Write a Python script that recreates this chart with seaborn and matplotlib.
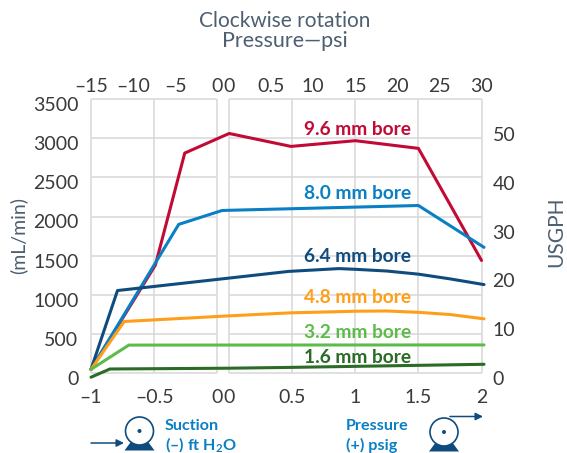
import pandas as pd
import matplotlib
matplotlib.use("Agg")
import matplotlib.pyplot as plt
from matplotlib.patches import Circle, Polygon
from matplotlib.transforms import ScaledTranslation
import seaborn as sns

# gap between suction and pressure panels, in x units
GAP = 0.095

bores = ["9.6 mm bore", "8.0 mm bore", "6.4 mm bore", "4.8 mm bore", "3.2 mm bore", "1.6 mm bore"]
colors = ["#c10a36", "#0a7fc4", "#0f4c7d", "#ff9e18", "#5dbb4a", "#2a6b25"]

# first n points of each series are suction side, the rest get shifted by GAP
x_96 = [-1, -0.49, -0.257, 0, 0.49, 1.0, 1.5, 2.0]
y_96 = [50, 1380, 2810, 3060, 2895, 2968, 2870, 1440]
x_80 = [-1, -0.305, 0.038, 0, 0.47, 1.5, 2.02]
y_80 = [50, 1900, 2077, 2080, 2099, 2141, 1607]
x_64 = [-1, -0.79, 0, 0.47, 0.87, 1.0, 1.25, 1.5, 1.75, 2.02]
y_64 = [50, 1056, 1215, 1300, 1336, 1327, 1305, 1265, 1205, 1132]
x_48 = [-1, -0.737, 0, 0.48, 1.0, 1.25, 1.5, 1.75, 2.02]
y_48 = [50, 661, 733, 771, 792, 795, 778, 750, 695]
x_32 = [-1, -0.70, 2.02]
y_32 = [50, 360, 362]
x_16 = [-1, -0.85, 0, 0.47, 2.02]
y_16 = [-50, 55, 65, 75, 115]
xs = [x_96, x_80, x_64, x_48, x_32, x_16]
ys = [y_96, y_80, y_64, y_48, y_32, y_16]
n_suction = [3, 3, 2, 2, 2, 2]

label_y = [3110, 2295, 1495, 973, 523, 203]

bottom_ticks = [-1, -0.5, 0, 0, 0.5, 1, 1.5, 2]
bottom_labels = ["–1", "–0.5", "0", "0", "0.5", "1", "1.5", "2"]
top_ticks = [-1, -2/3, -1/3, 0, 0, 1/3, 2/3, 1, 4/3, 5/3, 2]
top_labels = ["–15", "–10", "–5", "0", "0", "0.5", "10", "15", "20", "25", "30"]
left_ticks = [0, 500, 1000, 1500, 2000, 2500, 3000, 3500]
right_ticks = [0, 10, 20, 30, 40, 50]

sns.set_style("white")
plt.rcParams["font.family"] = ["Lato", "DejaVu Sans"]
plt.rcParams["mathtext.fontset"] = "custom"
plt.rcParams["mathtext.bf"] = "Lato:bold"

W, H = 567, 453
fig = plt.figure(figsize=(W / 100, H / 100), dpi=100)
ax = fig.add_axes([91 / W, 1 - 373.3 / H, 390.5 / W, 274.3 / H])
ax.set_xlim(-1, 2 + GAP)
ax.set_ylim(0, 3500)
for s in ax.spines.values():
    s.set_visible(False)

grid = "#d9d9d9"
for t in left_ticks:
    ax.hlines(t, -1, 0, color=grid, lw=1.15, zorder=1, clip_on=False)
    ax.hlines(t, GAP, 2 + GAP, color=grid, lw=1.15, zorder=1, clip_on=False)
for t in [-1, -0.5, 0]:
    ax.vlines(t, 0, 3500, color=grid, lw=1.15, zorder=1, clip_on=False)
for t in [0, 0.5, 1, 1.5, 2]:
    ax.vlines(t + GAP, 0, 3500, color=grid, lw=1.15, zorder=1, clip_on=False)

for x, y, c, n in zip(xs, ys, colors, n_suction):
    df = pd.DataFrame({"x": x[:n] + [a + GAP for a in x[n:]], "y": y})
    sns.lineplot(data=df, x="x", y="y", color=c, lw=2.2, ax=ax, estimator=None,
                 sort=False, clip_on=False, zorder=3)
ax.set_xlabel("")
ax.set_ylabel("")

for name, ly, c in zip(bores, label_y, colors):
    ax.text(1.015 + GAP, ly, name, color=c, fontsize=13.8, fontweight="bold",
            ha="center", va="center", zorder=4)

txt = "#3a3a3a"
ax.set_xticks([t + GAP if i > 2 else t for i, t in enumerate(bottom_ticks)])
ax.set_xticklabels(bottom_labels)
ax.set_yticks(left_ticks)
ax.tick_params(axis="both", length=0, labelsize=14, labelcolor=txt)
ax.tick_params(axis="x", pad=11)
ax.tick_params(axis="y", pad=9)
down = ScaledTranslation(0, -3.5 / 72, fig.dpi_scale_trans)
for lab in ax.get_yticklabels():
    lab.set_transform(lab.get_transform() + down)

top = ax.twiny()
top.set_xlim(ax.get_xlim())
top.set_xticks([t + GAP if i > 3 else t for i, t in enumerate(top_ticks)])
top.set_xticklabels(top_labels)
top.tick_params(axis="x", length=0, labelsize=14, labelcolor=txt, pad=3)
for s in top.spines.values():
    s.set_visible(False)

# right scale does not line up with the left one, so it gets its own axes
rax = fig.add_axes([91 / W, 1 - 378 / H, 390.5 / W, 244 / H])
rax.patch.set_visible(False)
rax.set_ylim(0, 50)
rax.set_xticks([])
rax.yaxis.tick_right()
rax.set_yticks(right_ticks)
rax.tick_params(axis="y", length=0, labelsize=14, labelcolor=txt, pad=8)
for s in rax.spines.values():
    s.set_visible(False)

# overlay in pixel coordinates for titles and pump symbols
ov = fig.add_axes([0, 0, 1, 1])
ov.set_xlim(0, W)
ov.set_ylim(H, 0)
ov.axis("off")
ov.patch.set_visible(False)

slate = "#4d5f70"
ov.text(285, 21, "Clockwise rotation", color=slate, fontsize=15, ha="center", va="center")
ov.text(285, 41, "Pressure—psi", color=slate, fontsize=15.5, ha="center", va="center")
ov.text(18, 235, "(mL/min)", color=slate, fontsize=14, rotation=90, ha="center", va="center")
ov.text(556, 232, "USGPH", color=slate, fontsize=15, rotation=90, ha="center", va="center")

blue = "#0a7fc4"
navy = "#0f4c7d"
ov.text(165, 426, "Suction", color=blue, fontsize=11.6, fontweight="bold", va="center")
ov.text(165, 445, r"(–) ft H$\mathbf{_2}$O", color=blue, fontsize=11.6, fontweight="bold", va="center")
ov.text(346, 426, "Pressure", color=blue, fontsize=11.6, fontweight="bold", va="center")
ov.text(346, 445, "(+) psig", color=blue, fontsize=11.6, fontweight="bold", va="center")


def pump(cx, cy):
    ov.add_patch(Polygon([(cx - 15, cy + 19.5), (cx + 15, cy + 19.5), (cx + 8, cy + 10), (cx - 8, cy + 10)],
                         color=navy, lw=0))
    ov.add_patch(Circle((cx, cy), 14, fc="white", ec=navy, lw=1.2))
    ov.add_patch(Circle((cx, cy), 2, fc=navy, ec="none"))


pump(139.5, 431)
pump(444, 432)
ov.annotate("", xy=(124, 443), xytext=(91, 443),
            arrowprops=dict(arrowstyle="-|>", color=navy, lw=1.1, mutation_scale=11, shrinkA=0, shrinkB=0))
ov.annotate("", xy=(483, 416.5), xytext=(450, 416.5),
            arrowprops=dict(arrowstyle="-|>", color=navy, lw=1.1, mutation_scale=11, shrinkA=0, shrinkB=0))

fig.savefig("out.png", dpi=100)
